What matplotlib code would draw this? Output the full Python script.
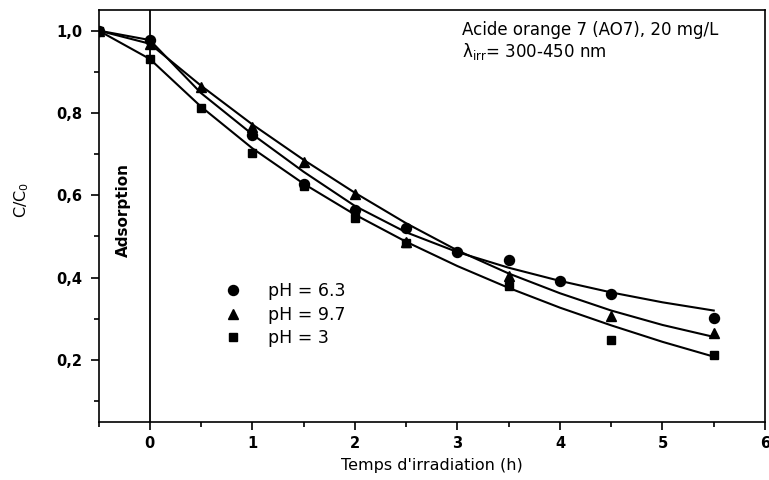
import matplotlib
matplotlib.use("Agg")
import matplotlib.pyplot as plt
from matplotlib.ticker import MultipleLocator, FuncFormatter

plt.rcParams['font.family'] = ['DejaVu Sans']

# ---- data ----
x_ph63 = [-0.5, 0, 1, 1.5, 2, 2.5, 3, 3.5, 4, 4.5, 5.5]
y_ph63 = [1.0, 0.977, 0.747, 0.627, 0.565, 0.521, 0.463, 0.443, 0.391, 0.360, 0.303]

x_ph97 = [-0.5, 0, 0.5, 1, 1.5, 2, 2.5, 3.5, 4.5, 5.5]
y_ph97 = [1.0, 0.968, 0.862, 0.765, 0.680, 0.602, 0.487, 0.403, 0.306, 0.265]

x_ph3 = [-0.5, 0, 0.5, 1, 1.5, 2, 2.5, 3.5, 4.5, 5.5]
y_ph3 = [1.0, 0.931, 0.811, 0.703, 0.623, 0.545, 0.483, 0.380, 0.248, 0.212]

# fitted curves
x_fit = [-0.5, 0, 0.5, 1, 1.5, 2, 2.5, 3, 3.5, 4, 4.5, 5, 5.5]
fit_ph63 = [1.0, 0.977, 0.848, 0.748, 0.657, 0.574, 0.510, 0.462, 0.424, 0.392, 0.364, 0.340, 0.320]
fit_ph97 = [1.0, 0.968, 0.866, 0.772, 0.686, 0.606, 0.532, 0.466, 0.410, 0.362, 0.320, 0.285, 0.256]
fit_ph3 = [1.0, 0.931, 0.815, 0.714, 0.628, 0.553, 0.487, 0.428, 0.375, 0.327, 0.284, 0.244, 0.208]

labels = ['pH = 6.3', 'pH = 9.7', 'pH = 3']
x_ticks = [0, 1, 2, 3, 4, 5, 6]
y_ticks = [0.2, 0.4, 0.6, 0.8, 1.0]

# ---- figure ----
fig = plt.figure(figsize=(7.69, 4.80), dpi=100)
ax = fig.add_axes([98.6 / 769, 1 - 421.7 / 480, (765 - 98.6) / 769, (421.7 - 10) / 480])

lw = 1.5
for yf in (fit_ph63, fit_ph97, fit_ph3):
    ax.plot(x_fit, yf, color='black', lw=lw, zorder=2, solid_joinstyle='round')

h1, = ax.plot(x_ph63, y_ph63, 'o', color='black', ms=7.2, ls='none', zorder=3)
h2, = ax.plot(x_ph97, y_ph97, '^', color='black', ms=7.8, ls='none', zorder=3)
h3, = ax.plot(x_ph3, y_ph3, 's', color='black', ms=6.2, ls='none', zorder=3)

ax.axvline(0, color='black', lw=1.3, zorder=1)

ax.set_xlim(-0.5, 6)
ax.set_ylim(0.05, 1.05)
ax.set_xticks(x_ticks)
ax.set_yticks(y_ticks)
ax.xaxis.set_minor_locator(MultipleLocator(0.5))
ax.yaxis.set_minor_locator(MultipleLocator(0.1))
ax.yaxis.set_major_formatter(FuncFormatter(lambda v, p: f"{v:.1f}".replace('.', ',')))
ax.tick_params(which='major', direction='out', length=6, width=1.2, pad=4,
               labelsize=10.5)
ax.tick_params(axis='y', which='major', pad=5.5)
ax.tick_params(which='minor', direction='out', length=3.5, width=1.2)
for lab in ax.get_xticklabels() + ax.get_yticklabels():
    lab.set_fontweight('bold')
for s in ax.spines.values():
    s.set_linewidth(1.2)

ax.set_xlabel("Temps d'irradiation (h)", fontsize=11.5, labelpad=5)
ax.set_ylabel("C/C$_0$", fontsize=11.5)
ax.yaxis.set_label_coords(-0.102, 0.538)

ax.text(-0.254, 0.564, "Adsorption", rotation=90, ha='center', va='center',
        fontsize=11, fontweight='bold')

ax.text(0.545, 0.9393, "Acide orange 7 (AO7), 20 mg/L", transform=ax.transAxes,
        fontsize=12, ha='left', va='baseline')
ax.text(0.545, 0.8857, "λ$_{\\mathregular{irr}}$= 300-450 nm", transform=ax.transAxes,
        fontsize=12, ha='left', va='baseline')

ax.legend([h1, h2, h3], labels, loc='upper left', bbox_to_anchor=(0.189, 0.339),
          frameon=False, fontsize=12.5, handlelength=1.0, handletextpad=1.5,
          labelspacing=0.32, borderpad=0, borderaxespad=0)

fig.savefig("out.png", dpi=100)
